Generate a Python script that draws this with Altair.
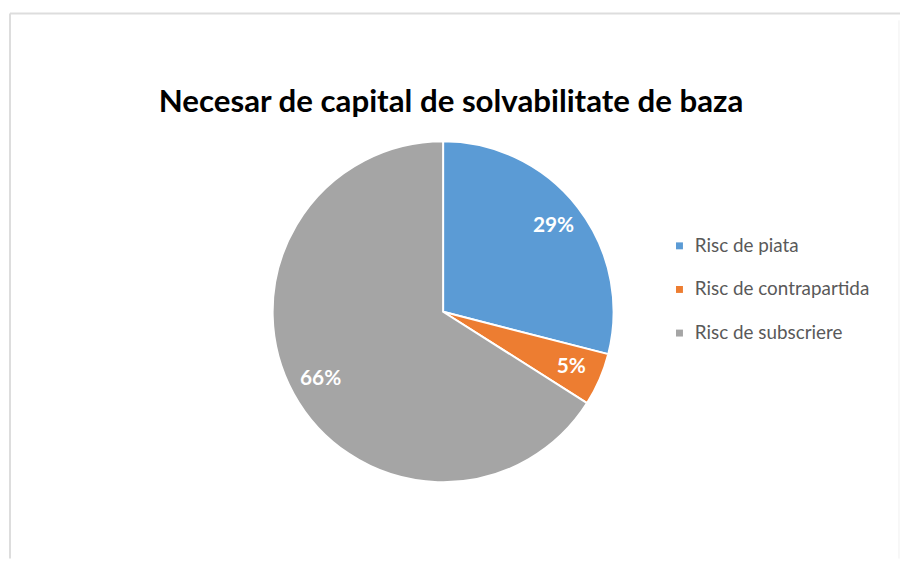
import altair as alt
import pandas as pd

categories = ["Risc de piata", "Risc de contrapartida", "Risc de subscriere"]
values = [29, 5, 66]
labels = ["29%", "5%", "66%"]
colors = ["#5B9BD5", "#ED7D31", "#A5A5A5"]
title_text = "Necesar de capital de solvabilitate de baza"

df = pd.DataFrame({
    "cat": categories,
    "val": values,
    "label": labels,
    "ord": list(range(len(categories))),
})

CX, CY, R = 439, 304, 172

base = alt.Chart(df).encode(
    theta=alt.Theta("val:Q", stack=True),
    order=alt.Order("ord:Q"),
)

pie = base.mark_arc(outerRadius=R, stroke="white", strokeWidth=2).encode(
    x=alt.value(CX),
    y=alt.value(CY),
    color=alt.Color(
        "cat:N",
        scale=alt.Scale(domain=categories, range=colors),
        sort=categories,
        legend=alt.Legend(
            title=None,
            orient="none",
            legendX=668,
            legendY=228,
            symbolType="square",
            symbolSize=49,
            symbolStrokeWidth=0,
            labelFontSize=19,
            labelFont="Lato",
            labelColor="#595959",
            labelOffset=6,
            labelLimit=300,
            rowPadding=24,
        ),
    ),
)

txt = base.mark_text(
    radius=141, fontSize=21, fontWeight="bold", font="Lato", color="white"
).encode(
    x=alt.value(CX),
    y=alt.value(CY),
    text="label:N",
)

title_df = pd.DataFrame({"t": [title_text]})
title = alt.Chart(title_df).mark_text(
    fontSize=31.5, fontWeight="bold", font="Lato", color="black", baseline="alphabetic"
).encode(x=alt.value(447), y=alt.value(102), text="t:N")

border = pd.DataFrame({"k": [0]})
top_line = alt.Chart(border).mark_rule(color="#dddddd", strokeWidth=2).encode(
    x=alt.value(2), x2=alt.value(900), y=alt.value(3)
)
left_line = alt.Chart(border).mark_rule(color="#dddddd", strokeWidth=2).encode(
    x=alt.value(2), y=alt.value(3), y2=alt.value(553)
)
right_line = alt.Chart(border).mark_rule(color="#f0f0f0", strokeWidth=1).encode(
    x=alt.value(899), y=alt.value(10), y2=alt.value(553)
)

chart = alt.layer(top_line, left_line, right_line, pie, txt, title).properties(
    width=900, height=553, autosize=alt.AutoSizeParams(type="none"), padding=0
).configure_view(stroke=None)

chart.save("out.html", embed_options={"renderer": "svg", "actions": False})
